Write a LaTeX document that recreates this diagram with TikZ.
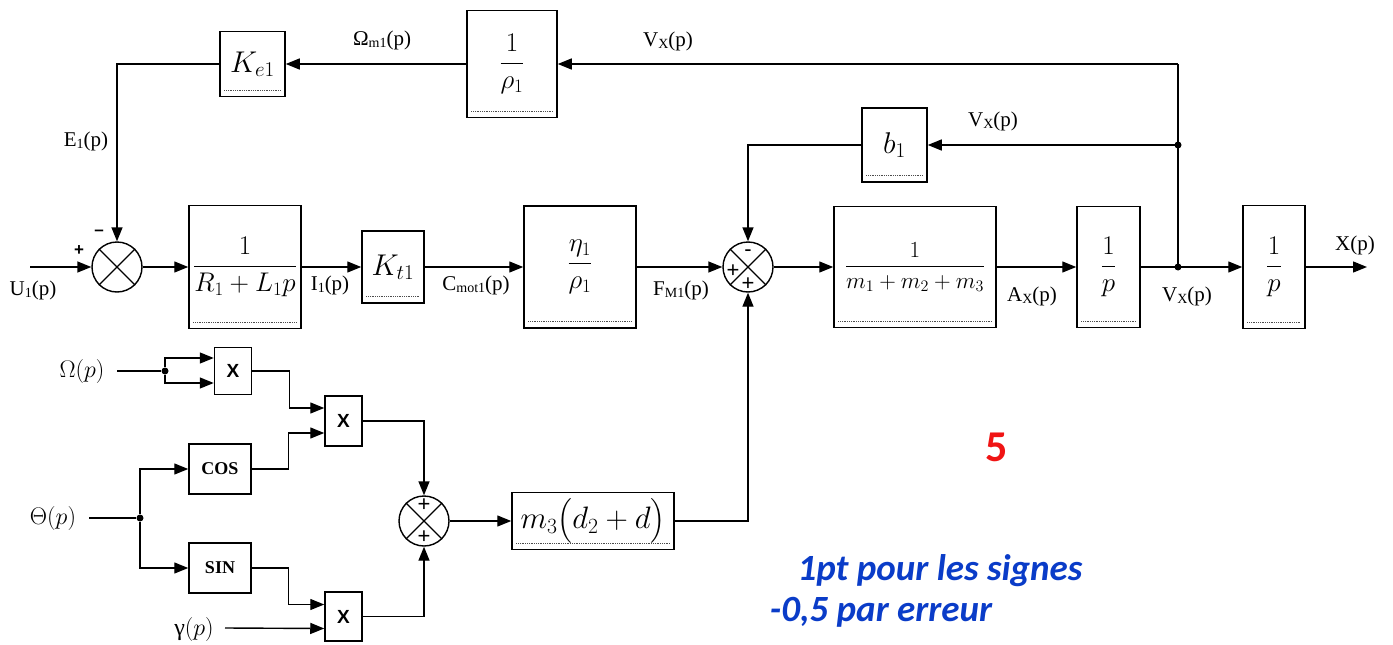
\RequirePackage{fix-cm}
\documentclass[tikz,border=0pt]{standalone}
\usepackage{amsmath}
\usepackage{fontspec}
\setmainfont{Liberation Serif}
\newfontfamily\calib{Carlito}
\newfontfamily\arialf{Liberation Sans}
\usetikzlibrary{arrows.meta}
\definecolor{gradeblue}{RGB}{10,60,200}
\definecolor{gradered}{RGB}{240,20,20}
\newcommand\dotbase[1]{\draw[line width=0.8pt,densely dotted,black!70] ([xshift=5pt,yshift=7pt]#1.south west) -- ([xshift=-5pt,yshift=7pt]#1.south east);}
\newcommand\crosssum[1]{\draw[line width=1.2pt] (#1.north east) -- (#1.south west) (#1.north west) -- (#1.south east);}
\newcommand\sbs[1]{\raisebox{-0.3ex}{\fontsize{14}{14}\selectfont #1}}
\begin{document}
\begin{tikzpicture}[x=1pt,y=-1pt,line width=1.4pt,
  >={Triangle[length=14pt,width=11pt]},
  blk/.style 2 args={draw,line width=1.5pt,inner sep=0pt,minimum width=#1,minimum height=#2},
  mth/.style={font=\fontsize{27}{30}\selectfont},
  big/.style={font=\fontsize{30}{34}\selectfont},
  summ/.style={draw,circle,line width=1.4pt,minimum size=50pt,inner sep=0pt},
  lab/.style={font=\fontsize{21}{24}\selectfont,inner sep=0pt},
  glab/.style={font=\fontsize{24}{26}\selectfont,inner sep=0pt},
  sgn/.style={font=\arialf\fontsize{22}{24}\selectfont,inner sep=0pt},
  opx/.style={font=\arialf\bfseries\fontsize{19}{20}\selectfont},
  trig/.style={font=\bfseries\fontsize{18}{20}\selectfont},
  note/.style={font=\calib\bfseries\itshape\fontsize{37}{40}\selectfont,text=gradeblue},
  dot/.style={circle,fill,inner sep=0pt,minimum size=7pt}]
\useasboundingbox (0,0) rectangle (1393,645);

% ---- main row blocks
\node[blk={65pt}{65pt},big] (Ke) at (252.5,64) {$K_{e1}$};
\node[blk={90pt}{107pt},mth] (rho) at (512,64) {$\dfrac{1}{\rho_1}$};
\node[summ] (S1) at (117,267) {};
\node[blk={112pt}{123pt},mth] (B1) at (245,267) {$\dfrac{1}{R_1+L_1p}$};
\node[blk={62pt}{72pt},big] (Kt) at (393,267) {$K_{t1}$};
\node[blk={112pt}{122pt},mth] (eta) at (580,267) {$\dfrac{\eta_1}{\rho_1}$};
\node[summ] (S2) at (748,267) {};
\node[blk={65pt}{74pt},big] (b1) at (894.5,145) {$b_1$};
\node[blk={162pt}{121pt},font=\fontsize{23}{26}\selectfont] (M) at (915,267) {$\dfrac{1}{m_1+m_2+m_3}$};
\node[blk={63pt}{121pt},mth] (I1) at (1108.5,267) {$\dfrac{1}{p}$};
\node[blk={62pt}{123pt},mth] (I2) at (1274,267) {$\dfrac{1}{p}$};
\coordinate (J1) at (1178,267);
\coordinate (J2) at (1178,145);
\coordinate (T) at (1178,64);
\coordinate (U0) at (30,267);
\coordinate (Xout) at (1367,267);

\foreach \n in {Ke,rho,B1,Kt,eta,b1,M,I1,I2} {\dotbase{\n}}
\crosssum{S1}
\crosssum{S2}

% ---- bottom blocks
\node[blk={37pt}{47pt},opx] (X1) at (233,371) {X};
\node[blk={37pt}{50pt},opx] (X2) at (343.5,421) {X};
\node[blk={62pt}{50pt},trig] (COS) at (220,469) {COS};
\node[blk={62pt}{50pt},trig] (SIN) at (220,568) {SIN};
\node[blk={37pt}{49pt},opx] (X3) at (343.5,616.5) {X};
\node[summ] (S3) at (424,521) {};
\node[blk={162pt}{57pt},font=\fontsize{31}{34}\selectfont] (M3) at (593,521) {$m_3\bigl(d_2+d\bigr)$};
\dotbase{M3}
\crosssum{S3}
\node[dot] (D1) at (165,371) {};
\node[dot] (D2) at (140,518) {};
\coordinate (om0) at (117,371);
\coordinate (th0) at (89,518);
\coordinate (g0) at (225,628);

% ---- connectors main
\draw[->] (U0) -- (S1.west);
\draw[->] (S1.east) -- (B1.west);
\draw[->] (B1.east) -- (Kt.west);
\draw[->] (Kt.east) -- (eta.west);
\draw[->] (eta.east) -- (S2.west);
\draw[->] (S2.east) -- (M.west);
\draw[->] (M.east) -- (I1.west);
\draw[->] (I1.east) -- (I2.west);
\draw[->] (I2.east) -- (Xout);
\draw (J1) -- (T);
\draw[->] (T) -- (rho.east);
\draw[->] (rho.west) -- (Ke.east);
\draw[->] (Ke.west) -| (S1.north);
\draw[->] (J2) -- (b1.east);
\draw[->] (b1.west) -| (S2.north);
\node[dot] at (J1) {};
\node[dot] at (J2) {};

% ---- connectors bottom
\draw (om0) -- (D1);
\draw[->] (D1) |- ([yshift=13pt]X1.west);
\draw[->] (D1) |- ([yshift=-12pt]X1.west);
\draw[->] (X1.east) -- ++(37,0) |- ([yshift=13pt]X2.west);
\draw[->] (COS.east) -- ++(37,0) |- ([yshift=-12pt]X2.west);
\draw (th0) -- (D2);
\draw[->] (D2) |- (COS.west);
\draw[->] (D2) |- (SIN.west);
\draw[->] (SIN.east) -- ++(37,0) |- ([yshift=12pt]X3.west);
\draw[->] (g0) -- ([yshift=-12pt]X3.west);
\draw[->] (X2.east) -| (S3.north);
\draw[->] (X3.east) -| (S3.south);
\draw[->] (S3.east) -- (M3.west);
\draw[->] (M3.east) -| (S2.south);

% ---- signs
\node[font=\arialf\bfseries\fontsize{17}{18}\selectfont] (p1) at (79,251) {+};
\node[font=\arialf\bfseries\fontsize{17}{18}\selectfont] (m1) at (99,233) {–};
\node[sgn] (m2) at (748,253) {-};
\node[sgn] (p2) at (733,271) {+};
\node[sgn] (p3) at (748,284) {+};
\node[sgn] (p4) at (424,505) {+};
\node[sgn] (p5) at (424,537) {+};

% ---- labels
\node[lab] (lOm) at (382,40) {Ω\sbs{m1}(p)};
\node[lab] (lV1) at (668,41) {V\sbs{X}(p)};
\node[lab] (lE) at (86,141) {E\sbs{1}(p)};
\node[lab] (lU) at (33,290) {U\sbs{1}(p)};
\node[lab] (lI) at (330,285) {I\sbs{1}(p)};
\node[lab] (lC) at (476,285) {C\sbs{mot1}(p)};
\node[lab] (lF) at (681,290) {F\sbs{M1}(p)};
\node[lab] (lV2) at (993,121) {V\sbs{X}(p)};
\node[lab] (lA) at (1032,296) {A\sbs{X}(p)};
\node[lab] (lV3) at (1187,296) {V\sbs{X}(p)};
\node[lab] (lX) at (1355,245) {X(p)};
\node[glab] (lO) at (82,371) {$\Omega(p)$};
\node[glab] (lT) at (53,518) {$\Theta(p)$};
\node[glab] (lg) at (194,629) {γ$(p)$};

% ---- grading notes
\node[font=\calib\bfseries\fontsize{44}{48}\selectfont,text=gradered] (five) at (997,447) {5};
\node[note] (n1) at (940,571) {1pt pour les signes};
\node[note] (n2) at (881,612) {-0,5 par erreur};
\end{tikzpicture}
\end{document}
